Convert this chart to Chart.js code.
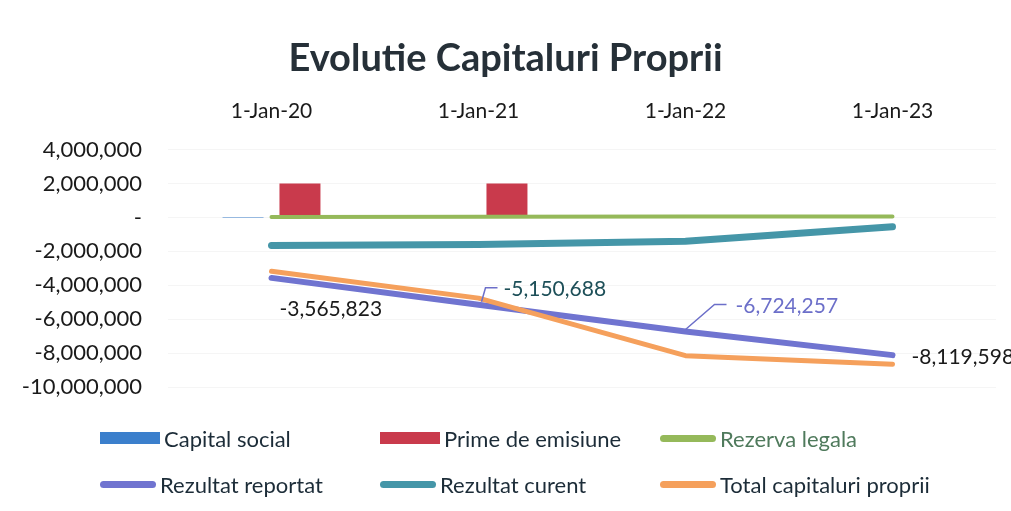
<!DOCTYPE html>
<html>
<head>
<meta charset="utf-8">
<script src="https://cdn.jsdelivr.net/npm/chart.js@4"></script>
<style>
  body { margin: 0; background: #fff; }
  #wrap { position: relative; width: 1011px; height: 511px; }
  #legend { position: absolute; left: 0; top: 0; width: 1011px; height: 511px; pointer-events: none;
    font-family: Lato, "Open Sans", sans-serif; font-size: 22px; color: #1c2c38; }
  .item { position: absolute; display: flex; align-items: center; white-space: nowrap; }
  .sw { display: inline-block; margin-right: 4px; }
</style>
</head>
<body>
<div id="wrap">
  <canvas id="chart" width="1011" height="511"></canvas>
  <div id="legend"></div>
</div>
<script>
// values
let dates = ['1-Jan-20', '1-Jan-21', '1-Jan-22', '1-Jan-23']
let capitalSocial = [200, 200, 200, 200]
let primeEmisiune = [2000000, 2000000, 0, 0]
let rezervaLegala = [30000, 40000, 50000, 60000]
let rezultatReportat = [-3565823, -5150688, -6724257, -8119598]
let rezultatCurent = [-1650000, -1600000, -1400000, -550000]
let totalCapitaluri = [-3180000, -4760000, -8150000, -8660000]
let yTickValues = [4000000, 2000000, 0, -2000000, -4000000, -6000000, -8000000, -10000000]

let fontName = 'Lato, "Open Sans", sans-serif'

function fmt(v) {
  if (v === 0) return '-'
  return v.toLocaleString('en-US')
}

// data labels on the Rezultat reportat series
let labelSpots = [
  {dx: 8, dy: 31, color: '#1a1a1a'},
  {dx: 25, dy: -16, color: '#1d4f58', leader: [[3, -3], [7, -17], [19, -17]]},
  {dx: 50, dy: -25, color: '#6c6fc9', leader: [[0, -2], [29, -27], [41, -27]]},
  {dx: 19, dy: 2, color: '#1a1a1a'}
]

let pointLabels = {
  id: 'pointLabels',
  afterDatasetsDraw(chart) {
    let ctx = chart.ctx
    let meta = chart.getDatasetMeta(3)
    ctx.save()
    ctx.font = '21px ' + fontName
    ctx.textBaseline = 'middle'
    ctx.textAlign = 'left'
    meta.data.forEach((pt, i) => {
      let s = labelSpots[i]
      if (s.leader) {
        ctx.strokeStyle = '#6c6fc9'
        ctx.lineWidth = 1.5
        ctx.beginPath()
        s.leader.forEach((p, j) => {
          if (j === 0) ctx.moveTo(pt.x + p[0], pt.y + p[1])
          else ctx.lineTo(pt.x + p[0], pt.y + p[1])
        })
        ctx.stroke()
      }
      ctx.fillStyle = s.color
      ctx.fillText(fmt(rezultatReportat[i]), pt.x + s.dx, pt.y + s.dy)
    })
    ctx.restore()
  }
}

function lineSet(label, data, color, width, order) {
  return {
    type: 'line', label: label, data: data, borderColor: color, backgroundColor: color,
    borderWidth: width, borderCapStyle: 'round', borderJoinStyle: 'round',
    pointRadius: 0, tension: 0, fill: false, order: order
  }
}

let chart = new Chart(document.getElementById('chart'), {
  data: {
    labels: dates,
    datasets: [
      {type: 'bar', label: 'Capital social', data: capitalSocial, backgroundColor: '#3b7fcc',
        categoryPercentage: 0.55, barPercentage: 0.72, order: 4},
      {type: 'bar', label: 'Prime de emisiune', data: primeEmisiune, backgroundColor: '#c93a4c',
        categoryPercentage: 0.55, barPercentage: 0.72, order: 5},
      lineSet('Rezerva legala', rezervaLegala, '#95b95a', 4, 3),
      lineSet('Rezultat reportat', rezultatReportat, '#7074d0', 6, 1),
      lineSet('Rezultat curent', rezultatCurent, '#4596a8', 7, 2),
      lineSet('Total capitaluri proprii', totalCapitaluri, '#f5a05c', 5, 0)
    ]
  },
  options: {
    responsive: false,
    animation: false,
    layout: {padding: {left: 15, right: 15, top: 0, bottom: 124}},
    plugins: {
      legend: {display: false},
      tooltip: {enabled: false},
      title: {
        display: true, text: 'Evolutie Capitaluri Proprii', color: '#263038',
        font: {family: fontName, size: 38, weight: 'bold'},
        padding: {top: 36, bottom: 14}
      }
    },
    scales: {
      x: {
        position: 'top', offset: true,
        grid: {display: false, drawTicks: false}, border: {display: false},
        ticks: {color: '#1a1a1a', font: {family: fontName, size: 21}, padding: 26},
        afterFit(scale) { scale.height = 54 }
      },
      y: {
        min: -10000000, max: 4000000,
        grid: {color: '#f5f5f5', drawTicks: false}, border: {display: false},
        afterBuildTicks(scale) { scale.ticks = yTickValues.map(v => ({value: v})) },
        ticks: {color: '#1a1a1a', font: {family: fontName, size: 22}, padding: 26,
          callback: v => fmt(v)},
        afterFit(scale) { scale.width = 153 }
      }
    }
  },
  plugins: [pointLabels]
})

// legend built from the chart's datasets, laid out in 3 columns
let legendCols = [100, 380, 660]
let legendRows = [438, 484]
let legendBox = document.getElementById('legend')
chart.data.datasets.forEach((ds, i) => {
  let item = document.createElement('div')
  item.className = 'item'
  item.style.left = legendCols[i % 3] + 'px'
  item.style.top = (legendRows[Math.floor(i / 3)] - 13) + 'px'
  item.style.height = '26px'
  let sw = document.createElement('span')
  sw.className = 'sw'
  if (ds.type === 'bar') {
    sw.style.width = '60px'; sw.style.height = '12px'; sw.style.background = ds.backgroundColor
  } else {
    sw.style.width = '56px'; sw.style.height = '7px'; sw.style.borderRadius = '4px'
    sw.style.background = ds.borderColor
  }
  let tx = document.createElement('span')
  tx.textContent = ds.label
  if (ds.label === 'Rezerva legala') tx.style.color = '#4f7a5c'
  item.appendChild(sw)
  item.appendChild(tx)
  legendBox.appendChild(item)
})
</script>
</body>
</html>
